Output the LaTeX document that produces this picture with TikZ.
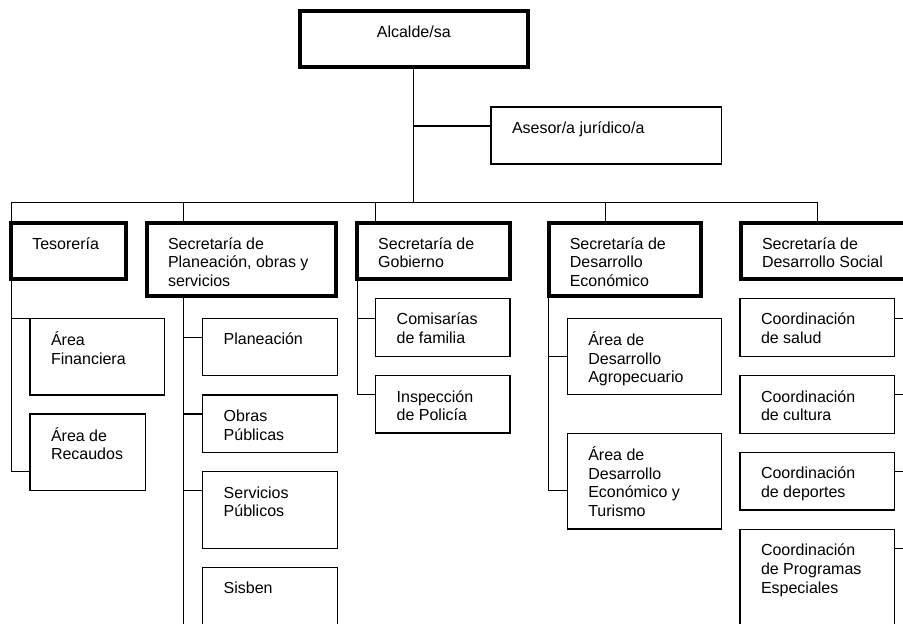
\documentclass[tikz,border=0pt]{standalone}
\usepackage{fontspec}
\setmainfont{Liberation Sans}
\usetikzlibrary{calc}
\tikzset{
  thinbox/.style={draw=black, line width=1.3pt, inner sep=0pt, outer sep=0pt, fill=none},
  thickbox/.style={draw=black, line width=4pt, inner sep=0pt, outer sep=0pt, fill=none},
  conn/.style={draw=black, line width=1.3pt},
  txt/.style={inner sep=0pt, outer sep=0pt, anchor=north west, align=left, font=\fontsize{16}{18.6}\selectfont},
}
\newcommand\mkbox[6]{\node[#2, minimum width={(#5-#3)*1pt}, minimum height={(#6-#4)*1pt}] (#1) at ({(#3+#5)/2},{(#4+#6)/2}) {};}
\newcommand\btext[2]{\node[txt] at ($(#1.north west)+(21,13.5)$) {\strut #2};}
% \branch{coordname}{anchor}{dy}{target for x}
\newcommand\branch[4]{\coordinate (#1) at ([yshift=-#3pt]#2); \draw[conn] (#1) -- (#1 -| #4);}
\begin{document}
\begin{tikzpicture}[x=1pt,y=-1pt]
\useasboundingbox (0,0) rectangle (903,624);
\clip (0,0) rectangle (903,624);
\fill[white] (0,0) rectangle (903,624);
% top level
\mkbox{alc}{thickbox}{299.5}{11.3}{528}{67.4}
\node[txt, anchor=north] at ($(alc.north)+(0,13.5)$) {\strut Alcalde/sa};
\mkbox{ase}{thinbox}{491}{107}{721.5}{164}
\btext{ase}{Asesor/a jurídico/a}
% secretarias
\mkbox{tes}{thickbox}{11.3}{222.7}{126.2}{278.5}
\btext{tes}{Tesorería}
\mkbox{pla}{thickbox}{147}{222.7}{335.7}{296.3}
\btext{pla}{Secretaría de\\Planeación, obras y\\servicios}
\mkbox{gob}{thickbox}{357.2}{222.7}{509.7}{278.5}
\btext{gob}{Secretaría de\\Gobierno}
\mkbox{des}{thickbox}{548.8}{222.7}{701.3}{296.3}
\btext{des}{Secretaría de\\Desarrollo\\Económico}
\mkbox{soc}{thickbox}{741}{222.7}{960}{278.5}
\btext{soc}{Secretaría de\\Desarrollo Social}
% sub units
\mkbox{fin}{thinbox}{30}{318.3}{164.3}{395}
\btext{fin}{Área\\Financiera}
\mkbox{rec}{thinbox}{30}{414}{145.7}{490.7}
\btext{rec}{Área de\\Recaudos}
\mkbox{p1}{thinbox}{202.7}{318.3}{337.3}{375.3}
\btext{p1}{Planeación}
\mkbox{obr}{thinbox}{202.7}{395}{337.3}{452.3}
\btext{obr}{Obras\\Públicas}
\mkbox{ser}{thinbox}{202.7}{471.7}{337.3}{548.3}
\btext{ser}{Servicios\\Públicos}
\mkbox{sis}{thinbox}{202.7}{567.3}{337.3}{667}
\btext{sis}{Sisben}
\mkbox{com}{thinbox}{375.7}{298.3}{510}{356.7}
\btext{com}{Comisarías\\de familia}
\mkbox{ins}{thinbox}{375.7}{375.7}{510}{433}
\btext{ins}{Inspección\\de Policía}
\mkbox{agr}{thinbox}{567.3}{318.3}{721.7}{394.7}
\btext{agr}{Área de\\Desarrollo\\Agropecuario}
\mkbox{tur}{thinbox}{567.3}{433.3}{721.7}{529}
\btext{tur}{Área de\\Desarrollo\\Económico y\\Turismo}
\mkbox{sal}{thinbox}{740}{298.3}{894.3}{356.7}
\btext{sal}{Coordinación\\de salud}
\mkbox{cul}{thinbox}{740}{375.7}{894.3}{433.3}
\btext{cul}{Coordinación\\de cultura}
\mkbox{dep}{thinbox}{740}{452.3}{894.3}{510}
\btext{dep}{Coordinación\\de deportes}
\mkbox{pro}{thinbox}{740}{529.3}{894.3}{670}
\btext{pro}{Coordinación\\de Programas\\Especiales}
% bus coordinates
\coordinate (jn) at (414.3,202.3);
\coordinate (b0) at (11.3,202.3);
\coordinate (d2) at (183.3,202.3);
\coordinate (d3) at (375.7,202.3);
\coordinate (d4) at (605.7,202.3);
\coordinate (b5) at (817.7,202.3);
\coordinate (rs) at (915,0);
% connectors
\draw[conn] (alc.south) -- (alc.south |- jn);
\branch{ca}{ase.north west}{19}{alc.south}
\draw[conn] (tes.north west) -- (b0) -- (b5) -- (b5 |- soc.north);
\draw[conn] (d2) -- (d2 |- pla.north);
\draw[conn] (d3) -- (d3 |- gob.north);
\draw[conn] (d4) -- (d4 |- des.north);
% tesoreria
\coordinate (cr) at ([yshift=-57.7pt]rec.north west);
\draw[conn] (tes.south west) |- (cr);
\draw[conn] (fin.north west) -- (fin.north west -| tes.west);
% planeacion
\draw[conn] (d2 |- pla.south) -- (d2 |- sis.south);
\branch{cp1}{p1.north west}{19.4}{d2}
\branch{cp2}{obr.north west}{19}{d2}
\branch{cp3}{ser.north west}{19}{d2}
% gobierno
\coordinate (ci) at ([yshift=-18.6pt]ins.north west);
\draw[conn] (gob.south west) |- (ci);
\branch{cg1}{com.north west}{20}{gob.west}
% desarrollo economico
\coordinate (ct) at ([yshift=-57.4pt]tur.north west);
\draw[conn] (des.south west) |- (ct);
\branch{ce1}{agr.north west}{38.4}{des.west}
% desarrollo social
\branch{cs1}{sal.north east}{20}{rs}
\branch{cs2}{cul.north east}{18.6}{rs}
\branch{cs3}{dep.north east}{19.4}{rs}
\branch{cs4}{pro.north east}{19}{rs}
\end{tikzpicture}
\end{document}
